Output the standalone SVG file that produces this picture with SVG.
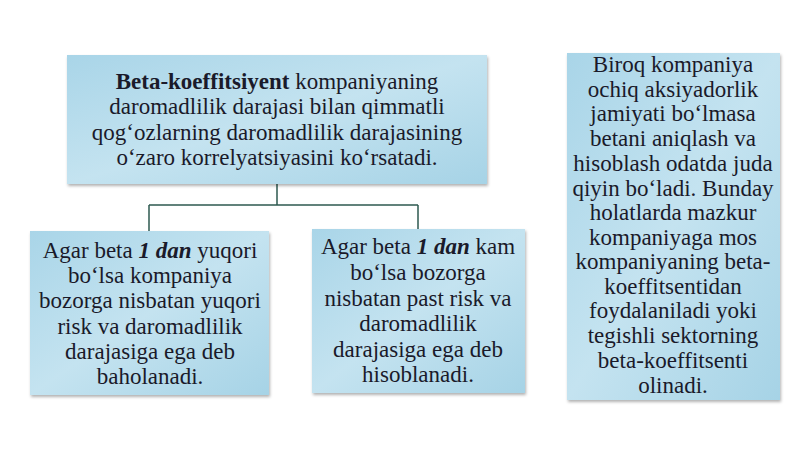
<svg xmlns="http://www.w3.org/2000/svg" width="800" height="449" viewBox="0 0 800 449">
<defs>
<linearGradient id="g" x1="0" y1="0" x2="1" y2="1">
<stop offset="0" stop-color="#a9d5e8"/>
<stop offset="0.5" stop-color="#c4e3f0"/>
<stop offset="1" stop-color="#a6d3e6"/>
</linearGradient>
<filter id="sh" x="-5%" y="-5%" width="110%" height="115%">
<feDropShadow dx="1" dy="2" stdDeviation="1.5" flood-color="#000" flood-opacity="0.3"/>
</filter>
</defs>
<style>
.box{fill:url(#g);filter:url(#sh);}
.t{font-family:"Liberation Serif","Times New Roman",serif;font-size:23px;fill:#1a1a2a;text-anchor:middle;}
.c{fill:none;stroke:#2e5a50;stroke-width:1.5;}
</style>
<rect width="800" height="449" fill="#ffffff"/>
<g id="connectors">
<path class="c" d="M277,184 V205 M149,205 H418 M149,205 V231 M418,205 V229"/>
</g>
<g id="node-top">
<rect class="box" x="67" y="55" width="420" height="129"/>
<text class="t" font-size="23.2"><tspan x="277" y="89"><tspan font-weight="bold">Beta-koeffitsiyent</tspan> kompaniyaning</tspan><tspan x="277" y="114">daromadlilik darajasi bilan qimmatli</tspan><tspan x="277" y="140">qog‘ozlarning daromadlilik darajasining</tspan><tspan x="277" y="165">o‘zaro korrelyatsiyasini ko‘rsatadi.</tspan></text>
</g>
<g id="node-left">
<rect class="box" x="30" y="231" width="239" height="164"/>
<text class="t"><tspan x="150" y="258">Agar beta <tspan font-weight="bold" font-style="italic">1 dan</tspan> yuqori</tspan><tspan x="150" y="283">bo‘lsa kompaniya</tspan><tspan x="150" y="308">bozorga nisbatan yuqori</tspan><tspan x="150" y="334">risk va daromadlilik</tspan><tspan x="150" y="359">darajasiga ega deb</tspan><tspan x="150" y="384">baholanadi.</tspan></text>
</g>
<g id="node-right">
<rect class="box" x="312" y="229" width="213" height="164"/>
<text class="t" font-size="23.5"><tspan x="418" y="254">Agar beta <tspan font-weight="bold" font-style="italic">1 dan</tspan> kam</tspan><tspan x="418" y="280">bo‘lsa bozorga</tspan><tspan x="418" y="306">nisbatan past risk va</tspan><tspan x="418" y="331">daromadlilik</tspan><tspan x="418" y="357">darajasiga ega deb</tspan><tspan x="418" y="382">hisoblanadi.</tspan></text>
</g>
<g id="node-side">
<rect class="box" x="567" y="53" width="213" height="347"/>
<text class="t" font-size="23.5"><tspan x="673" y="72">Biroq kompaniya</tspan><tspan x="673" y="97">ochiq aksiyadorlik</tspan><tspan x="673" y="121">jamiyati bo‘lmasa</tspan><tspan x="673" y="146">betani aniqlash va</tspan><tspan x="673" y="171">hisoblash odatda juda</tspan><tspan x="673" y="196">qiyin bo‘ladi. Bunday</tspan><tspan x="673" y="220">holatlarda mazkur</tspan><tspan x="673" y="245">kompaniyaga mos</tspan><tspan x="673" y="269">kompaniyaning beta-</tspan><tspan x="673" y="294">koeffitsentidan</tspan><tspan x="673" y="318">foydalaniladi yoki</tspan><tspan x="673" y="343">tegishli sektorning</tspan><tspan x="673" y="368">beta-koeffitsenti</tspan><tspan x="673" y="393">olinadi.</tspan></text>
</g>
</svg>
